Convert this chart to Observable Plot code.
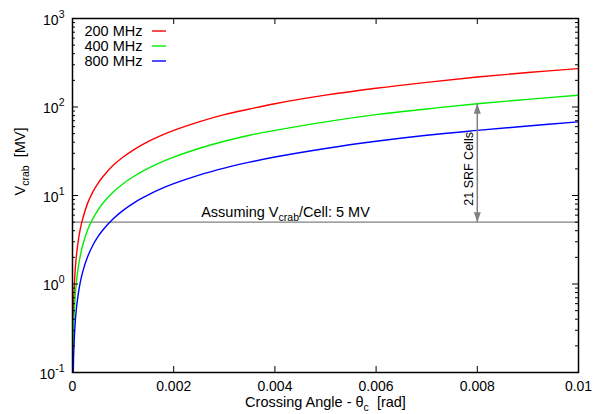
<!DOCTYPE html>
<html>
<head>
<meta charset="utf-8">
<script src="https://cdn.jsdelivr.net/npm/d3@7"></script>
<script src="https://cdn.jsdelivr.net/npm/@observablehq/plot@0.6"></script>
<style>
  html, body { margin: 0; padding: 0; background: white; }
</style>
</head>
<body>
<div id="chart"></div>
<script>
// ---- data ----
const theta = [0.000003, 0.00001, 0.00002, 0.00003, 0.00005, 0.00007, 0.0001, 0.00015, 0.0002, 0.0003, 0.0004, 0.0005, 0.0006, 0.0008, 0.001, 0.0012, 0.0014, 0.0017, 0.002, 0.0025, 0.003, 0.0035, 0.004, 0.005, 0.006, 0.007, 0.008, 0.009, 0.01];
const v200 = [0.082, 0.27, 0.54, 0.82, 1.36, 1.9, 2.7, 4.1, 5.4, 8.2, 10.9, 13.6, 16.3, 21.8, 27.2, 32.6, 38.1, 46.2, 54.4, 68, 82, 95, 109, 136, 163, 190, 218, 245, 272];
const v400 = [0.041, 0.136, 0.27, 0.41, 0.68, 0.95, 1.36, 2.04, 2.72, 4.1, 5.44, 6.8, 8.16, 10.9, 13.6, 16.3, 19.0, 23.1, 27.2, 34, 41, 48, 54.4, 68, 82, 95, 109, 122, 136];
const v800 = [0.02, 0.068, 0.136, 0.204, 0.34, 0.48, 0.68, 1.02, 1.36, 2.04, 2.72, 3.4, 4.08, 5.44, 6.8, 8.16, 9.5, 11.6, 13.6, 17, 20.4, 23.8, 27.2, 34, 41, 48, 54.4, 61, 68];
const seriesNames = ["200 MHz", "400 MHz", "800 MHz"];
const seriesColors = ["#ff0000", "#00ee00", "#0000ff"];
const seriesValues = [v200, v400, v800];

const cellVoltage = 5;          // MV per cell
const arrowTheta = 0.008;       // position of the "21 SRF Cells" arrow
const arrowTop = 109;           // 400 MHz curve at 0.008
const cellsLabel = "21 SRF Cells";

const xTicks = [0, 0.002, 0.004, 0.006, 0.008, 0.01];
const xTickLabels = ["0", "0.002", "0.004", "0.006", "0.008", "0.01"];
const yTicks = [0.1, 1, 10, 100, 1000];
const yTickExps = ["-1", "0", "1", "2", "3"];
const yMinor = [0.1, 1, 10, 100].flatMap(d => [2,3,4,5,6,7,8,9].map(k => d * k));

// ---- build table ----
const rows = [];
seriesNames.forEach((name, s) => theta.forEach((t, i) => rows.push({theta: t, v: seriesValues[s][i], series: name})));

const W = 594, H = 414, mL = 72, mR = 16, mT = 18, mB = 42;
const innerW = W - mL - mR, innerH = H - mT - mB;

const chart = Plot.plot({
  width: W, height: H,
  marginLeft: mL, marginRight: mR, marginTop: mT, marginBottom: mB,
  style: {fontFamily: "'Liberation Sans', Arial, Helvetica, sans-serif", fontSize: "14px", background: "white", color: "black"},
  x: {domain: [0, 0.01], label: null},
  y: {type: "log", domain: [0.1, 1000], label: null},
  color: {domain: seriesNames, range: seriesColors},
  marks: [
    Plot.ruleY([cellVoltage], {stroke: "#808080", strokeWidth: 1.2}),
    Plot.line(rows, {x: "theta", y: "v", z: "series", stroke: "series", strokeWidth: 1.4, curve: "catmull-rom", clip: true}),
    Plot.link([0], {x1: () => arrowTheta, x2: () => arrowTheta, y1: () => cellVoltage, y2: () => arrowTop, stroke: "#808080", strokeWidth: 1.5}),
    Plot.text([cellsLabel], {x: () => arrowTheta, y: () => Math.sqrt(cellVoltage * arrowTop), text: d => d, rotate: -90, dx: -8, dy: 6, fontSize: 12.5}),
    Plot.text(["@assume"], {x: () => 0.00421, y: () => cellVoltage, text: d => d, dy: -5, lineAnchor: "bottom", fontSize: 14.5}),
    // inward ticks
    Plot.tickY(yTicks, {y: d => d, insetRight: innerW - 6, stroke: "black", strokeWidth: 1}),
    Plot.tickY(yTicks, {y: d => d, insetLeft: innerW - 6, stroke: "black", strokeWidth: 1}),
    Plot.tickY(yMinor, {y: d => d, insetRight: innerW - 3, stroke: "black", strokeWidth: 1}),
    Plot.tickY(yMinor, {y: d => d, insetLeft: innerW - 3, stroke: "black", strokeWidth: 1}),
    Plot.tickX(xTicks, {x: d => d, insetTop: innerH - 6, stroke: "black", strokeWidth: 1}),
    Plot.tickX(xTicks, {x: d => d, insetBottom: innerH - 6, stroke: "black", strokeWidth: 1}),
    Plot.axisX({ticks: xTicks, tickSize: 0, tickPadding: 9, tickFormat: d => xTickLabels[xTicks.indexOf(d)], fontSize: 14, label: null}),
    Plot.axisY({ticks: yTicks, tickSize: 0, tickPadding: 8, dy: 2, tickFormat: d => "10^" + yTickExps[yTicks.indexOf(d)], fontSize: 14, label: null}),
    Plot.text(["@ylabel"], {frameAnchor: "left", rotate: -90, dx: -52, lineAnchor: "middle", text: d => d, fontSize: 14.5}),
    Plot.text(["@xlabel"], {frameAnchor: "bottom", dy: 30, lineAnchor: "middle", text: d => d, fontSize: 14.5}),
    ...seriesNames.map((name, i) =>
      Plot.text([name], {frameAnchor: "top-left", dx: 70, dy: 13 + 15 * i, lineAnchor: "middle", text: d => d, textAnchor: "end", fontSize: 14.5})),
    Plot.frame({stroke: "black", strokeWidth: 1.5})
  ]
});
document.getElementById("chart").appendChild(chart);

// ---- rich text (sub/superscripts) ----
const NS = "http://www.w3.org/2000/svg";
function rich(el, parts, small) {
  el.textContent = "";
  let shift = 0;
  for (const [s, m] of parts) {
    const t = document.createElementNS(NS, "tspan");
    const target = m === "sub" ? 4 : m === "sup" ? -7 : 0;
    if (target !== shift) t.setAttribute("dy", target - shift);
    shift = target;
    if (m) t.setAttribute("font-size", small);
    t.textContent = s;
    el.appendChild(t);
  }
}
const richParts = {
  "@ylabel": [["V", null], ["crab", "sub"], ["  [MV]", null]],
  "@xlabel": [["Crossing Angle - θ", null], ["c", "sub"], ["  [rad]", null]],
  "@assume": [["Assuming V", null], ["crab", "sub"], ["/Cell: 5 MV", null]]
};
chart.querySelectorAll("text").forEach(el => {
  const s = el.textContent;
  if (richParts[s]) rich(el, richParts[s], 10.5);
  else if (s.startsWith("10^")) {
    const [b, e] = s.split("^");
    rich(el, [[b, null], [e, "sup"]], 10.5);
  }
});

// ---- arrow heads ----
const defs = document.createElementNS(NS, "defs");
defs.innerHTML = '<marker id="ah" markerUnits="userSpaceOnUse" viewBox="0 0 10 7" refX="10" refY="3.5" markerWidth="10" markerHeight="7" orient="auto-start-reverse"><path d="M0,0L10,3.5L0,7Z" fill="#808080"/></marker>';
chart.insertBefore(defs, chart.firstChild);
chart.querySelectorAll('g[aria-label="link"] path, g[aria-label="link"] line').forEach(p => {
  p.setAttribute("marker-start", "url(#ah)");
  p.setAttribute("marker-end", "url(#ah)");
});

// ---- legend samples ----
const x0 = mL + 80, x1 = mL + 94;
seriesColors.forEach((c, i) => {
  const ln = document.createElementNS(NS, "line");
  ln.setAttribute("x1", x0); ln.setAttribute("x2", x1);
  ln.setAttribute("y1", mT + 13 + 15 * i); ln.setAttribute("y2", mT + 13 + 15 * i);
  ln.setAttribute("stroke", c); ln.setAttribute("stroke-width", 1.4);
  chart.appendChild(ln);
});
</script>
</body>
</html>
